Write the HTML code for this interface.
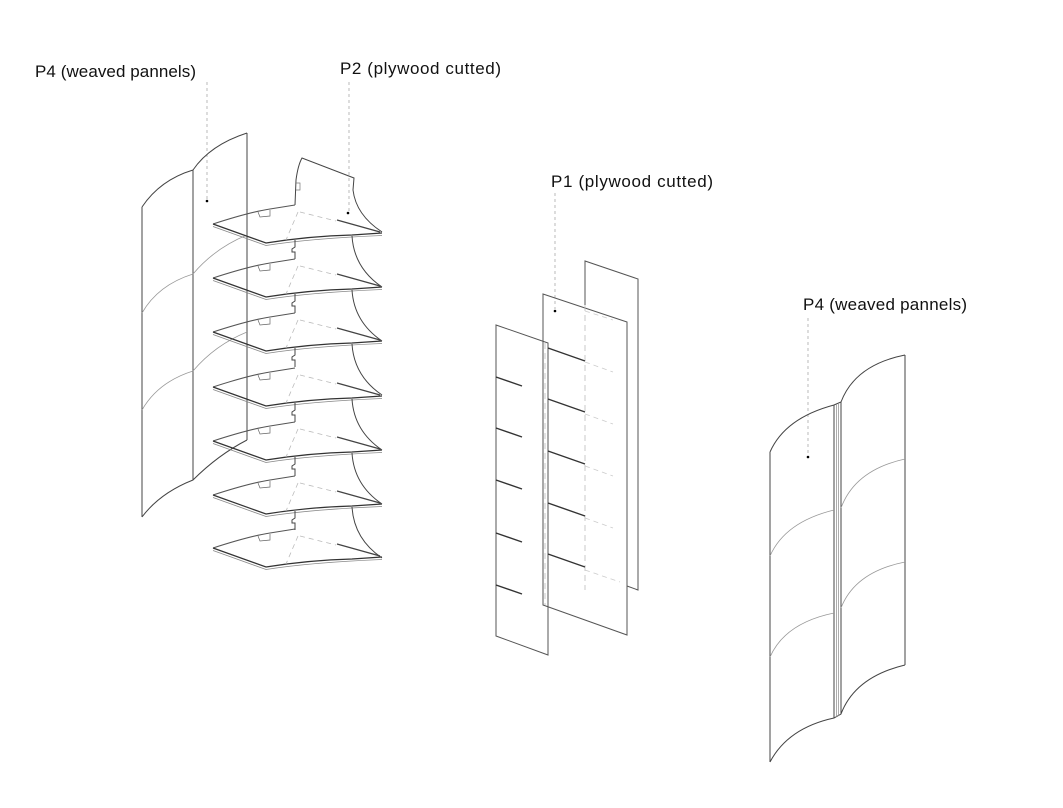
<!DOCTYPE html>
<html><head><meta charset="utf-8"><style>
html,body{margin:0;padding:0;background:#fff;}
svg{display:block;}
text{font-family:"Liberation Sans",sans-serif;font-size:17px;fill:#111;}
</style></head><body>
<svg width="1063" height="808" viewBox="0 0 1063 808" xmlns="http://www.w3.org/2000/svg">
<defs>
<g id="plate">
  <path d="M213,224 Q250,212 270,209 L295,205" fill="none" stroke="#555" stroke-width="1"/>
  <path d="M213,224 L266,243 Q310,236 352,235 L382,233" fill="none" stroke="#333" stroke-width="1.2"/>
  <path d="M213,226.5 L266,245.5 Q310,238.5 382,235.5" fill="none" stroke="#888" stroke-width="0.8"/>
  <path d="M337,220 L380,232" stroke="#444" stroke-width="1.3"/>
  <path d="M300,212 L336,221" stroke="#bbb" stroke-width="0.8" stroke-dasharray="5,4"/>
  <path d="M298,212 L286,240" stroke="#bbb" stroke-width="0.8" stroke-dasharray="5,4"/>
  <path d="M258,212 L260,217 L270,216 L270,210" fill="none" stroke="#666" stroke-width="0.7"/>
</g>
<g id="spine">
  <path d="M295,240 L295,247 L292,249 L292,252 L295,252 L295,259" fill="none" stroke="#444" stroke-width="1"/>
  <path d="M352,236 Q354,268 382,287" fill="none" stroke="#444" stroke-width="1"/>
</g>
</defs>

<text x="35" y="77" textLength="161">P4 (weaved pannels)</text>
<text x="340" y="74" textLength="161">P2 (plywood cutted)</text>
<text x="551" y="187" textLength="162">P1 (plywood cutted)</text>
<text x="803" y="310" textLength="164">P4 (weaved pannels)</text>

<g stroke="#aaa" stroke-width="0.8" stroke-dasharray="3,3">
  <line x1="207" y1="82" x2="207" y2="199"/>
  <line x1="349" y1="82" x2="349" y2="211"/>
  <line x1="555" y1="193" x2="555" y2="309"/>
  <line x1="808" y1="318" x2="808" y2="455"/>
</g>
<g fill="#000">
  <circle cx="207" cy="201" r="1.3"/>
  <circle cx="348" cy="213" r="1.3"/>
  <circle cx="555" cy="311" r="1.3"/>
  <circle cx="808" cy="457" r="1.3"/>
</g>

<g fill="none" stroke="#444" stroke-width="1">
  <path d="M142,207 L142,517"/>
  <path d="M142,207 Q160,180 193,170 Q210,145 247,133"/>
  <path d="M193,170 L193,480"/>
  <path d="M247,133 L247,440"/>
  <path d="M142,517 Q160,493 193,480 Q218,455 247,440"/>
</g>
<g fill="none" stroke="#999" stroke-width="0.8">
  <path d="M142,313 Q158,285 193,274 Q215,248 247,235"/>
  <path d="M142,410 Q158,382 193,371 Q215,345 247,332"/>
</g>

<path d="M295,205 L296,180 Q298,165 302,158 L354,178 L353,190 Q356,215 382,232" fill="none" stroke="#444" stroke-width="1"/>
<path d="M296,183 L300,183 L300,190 L296,190" fill="none" stroke="#777" stroke-width="0.7"/>

<use href="#plate"/>
<use href="#plate" transform="translate(0,54)"/>
<use href="#plate" transform="translate(0,108)"/>
<use href="#plate" transform="translate(0,163)"/>
<use href="#plate" transform="translate(0,217)"/>
<use href="#plate" transform="translate(0,271)"/>
<use href="#plate" transform="translate(0,324)"/>
<use href="#spine"/>
<use href="#spine" transform="translate(0,54)"/>
<use href="#spine" transform="translate(0,108)"/>
<use href="#spine" transform="translate(0,163)"/>
<use href="#spine" transform="translate(0,217)"/>
<use href="#spine" transform="translate(0,271)"/>

<g fill="none" stroke="#555" stroke-width="1">
  <path d="M585,305 L585,261 L638,279 L638,590 L627,586"/>
  <path d="M543,294 L627,322 L627,635 L543,605 Z"/>
  <path d="M496,325 L548,343 L548,655 L496,636 Z"/>
</g>
<g stroke="#bbb" stroke-width="0.8" stroke-dasharray="6,4" fill="none">
  <line x1="585" y1="305" x2="585" y2="590"/>
  <line x1="545" y1="343" x2="545" y2="605"/>
</g>
<g stroke="#333" stroke-width="1.4">
  <line x1="496" y1="377" x2="522" y2="386"/>
  <line x1="496" y1="428" x2="522" y2="437"/>
  <line x1="496" y1="480" x2="522" y2="489"/>
  <line x1="496" y1="533" x2="522" y2="542"/>
  <line x1="496" y1="585" x2="522" y2="594"/>
  <line x1="548" y1="348" x2="585" y2="361"/>
  <line x1="548" y1="399" x2="585" y2="412"/>
  <line x1="548" y1="451" x2="585" y2="464"/>
  <line x1="548" y1="503" x2="585" y2="516"/>
  <line x1="548" y1="554" x2="585" y2="567"/>
</g>
<g stroke="#ccc" stroke-width="0.8" stroke-dasharray="5,4">
  <line x1="585" y1="311" x2="613" y2="320"/>
  <line x1="585" y1="362" x2="613" y2="372"/>
  <line x1="585" y1="414" x2="613" y2="424"/>
  <line x1="585" y1="466" x2="613" y2="476"/>
  <line x1="585" y1="518" x2="613" y2="528"/>
  <line x1="585" y1="570" x2="620" y2="582"/>
</g>

<g fill="none" stroke="#444" stroke-width="1">
  <path d="M770,452 L770,762"/>
  <path d="M770,452 Q785,418 834,405 L841,402 Q855,365 905,355"/>
  <path d="M905,355 L905,665"/>
  <path d="M770,762 Q788,728 834,718 L841,714 Q855,677 905,665"/>
  <path d="M834,405 L834,718"/>
  <path d="M841,402 L841,714"/>
</g>
<g fill="none" stroke="#888" stroke-width="0.7">
  <path d="M836.5,404 L836.5,717"/>
  <path d="M838.5,403 L838.5,716"/>
</g>
<g fill="none" stroke="#999" stroke-width="0.8">
  <path d="M770,556 Q785,522 834,510"/>
  <path d="M770,657 Q785,623 834,613"/>
  <path d="M841,508 Q855,470 905,459"/>
  <path d="M841,608 Q855,572 905,562"/>
</g>
</svg>
</body></html>
